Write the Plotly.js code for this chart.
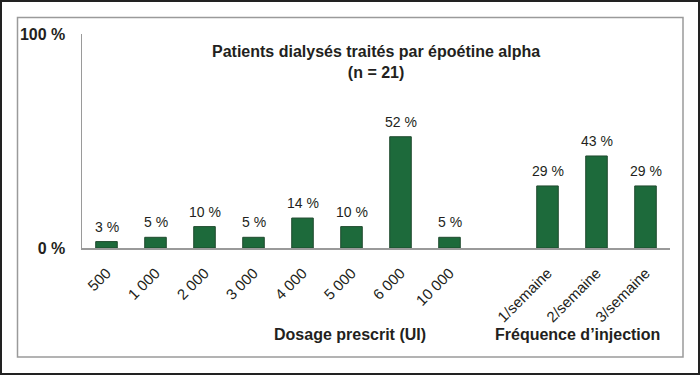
<!DOCTYPE html>
<html>
<head>
<meta charset="utf-8">
<script src="https://cdn.plot.ly/plotly-3.0.1.min.js"></script>
<style>
html,body{margin:0;padding:0;background:#fff;}
#chart{width:700px;height:375px;}
</style>
</head>
<body>
<div id="chart"></div>
<script>
// Data
const titleLine1 = "Patients dialysés traités par époétine alpha";
const titleLine2 = "(n = 21)";
const doseLabels = ["500", "1 000", "2 000", "3 000", "4 000", "5 000", "6 000", "10 000"];
const doseValues = [3, 5, 10, 5, 14, 10, 52, 5];
const freqLabels = ["1/semaine", "2/semaine", "3/semaine"];
const freqValues = [29, 43, 29];
const gapLabel = " ";
const yTickVals = [0, 100];
const yTickText = ["0 %", "100 %"];
const doseAxisTitle = "Dosage prescrit (UI)";
const freqAxisTitle = "Fréquence d’injection";

const categories = doseLabels.concat([gapLabel], freqLabels);
const values = doseValues.concat([null], freqValues);

const font = "Liberation Sans, Arial, Helvetica, sans-serif";
const ink = "#231f20";

const trace = {
  type: "bar",
  x: categories,
  y: values,
  width: 0.44,
  marker: {color: "#1d6a3b", line: {color: "#1f4a2e", width: 1}},
  cliponaxis: false,
  hoverinfo: "none"
};

// plot area: x 82..670, y 34..248
const L = 82, R = 670, T = 34, B = 248, W = 700, H = 375;
const px = v => (v - L) / (R - L);
const py = v => (B - v) / (B - T);

// value labels: x given as category index on the category axis
const valueLabels = [];
categories.forEach((c, i) => {
  if (values[i] === null) return;
  valueLabels.push({
    xref: "x", yref: "y", x: i, y: values[i],
    text: values[i] + " %", showarrow: false,
    xanchor: "center", yanchor: "bottom", yshift: 5,
    font: {family: font, size: 14, color: ink}
  });
});

const layout = {
  width: W, height: H,
  margin: {l: L, r: W - R, t: T, b: H - B, pad: 0},
  paper_bgcolor: "#fff",
  plot_bgcolor: "rgba(0,0,0,0)",
  showlegend: false,
  bargap: 0.56,
  xaxis: {
    type: "category",
    categoryorder: "array",
    categoryarray: categories,
    range: [-0.5, categories.length - 0.5],
    showline: true, linecolor: "#9a9a9a", linewidth: 1.5,
    showgrid: false, zeroline: false,
    ticks: "outside", ticklen: 9, tickcolor: "rgba(0,0,0,0)",
    tickangle: -45,
    tickfont: {family: font, size: 15, color: ink},
    fixedrange: true
  },
  yaxis: {
    range: [0, 100],
    tickvals: yTickVals, ticktext: yTickText,
    showline: true, linecolor: "#9a9a9a", linewidth: 1.5,
    showgrid: false, zeroline: false,
    ticks: "outside", ticklen: 12, tickcolor: "rgba(0,0,0,0)",
    tickfont: {family: font, size: 16, color: ink, weight: "bold"},
    fixedrange: true
  },
  annotations: valueLabels.concat([
    {xref: "paper", yref: "paper", x: px(375.5), y: py(52), text: "<b>" + titleLine1 + "</b><br><b>" + titleLine2 + "</b>",
     showarrow: false, xanchor: "center", yanchor: "middle", yshift: -10,
     font: {family: font, size: 16, color: ink}},
    {xref: "paper", yref: "paper", x: px(350), y: py(334), text: "<b>" + doseAxisTitle + "</b>",
     showarrow: false, xanchor: "center", yanchor: "middle",
     font: {family: font, size: 16, color: ink}},
    {xref: "paper", yref: "paper", x: px(577.5), y: py(334), text: "<b>" + freqAxisTitle + "</b>",
     showarrow: false, xanchor: "center", yanchor: "middle",
     font: {family: font, size: 16, color: ink}}
  ]),
  shapes: [
    {type: "rect", xref: "paper", yref: "paper", x0: px(1), x1: px(699), y0: py(1), y1: py(374),
     line: {color: "#222", width: 2}, layer: "below"},
    {type: "rect", xref: "paper", yref: "paper", x0: px(17.5), x1: px(683), y0: py(17.5), y1: py(357),
     line: {color: "#9a9a9a", width: 1.5}, layer: "below"}
  ]
};

Plotly.newPlot("chart", [trace], layout, {displayModeBar: false, staticPlot: true});
</script>
</body>
</html>
